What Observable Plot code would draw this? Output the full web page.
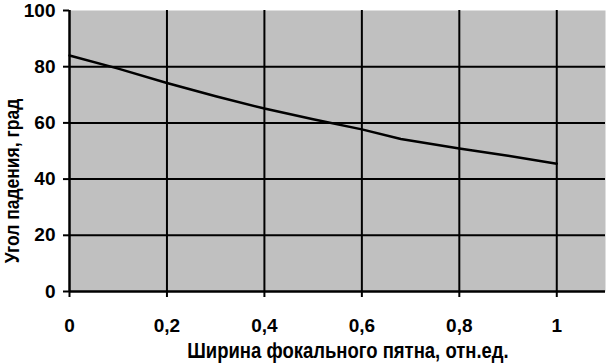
<!DOCTYPE html>
<html>
<head>
<meta charset="utf-8">
<script src="https://cdn.jsdelivr.net/npm/d3@7"></script>
<script src="https://cdn.jsdelivr.net/npm/@observablehq/plot@0.6"></script>
<style>
  html, body { margin: 0; padding: 0; background: #fff; }
  #chart { width: 607px; height: 364px; }
</style>
</head>
<body>
<div id="chart"></div>
<script>
const spotWidth = [0, 0.1, 0.2, 0.3, 0.4, 0.5, 0.6, 0.68, 0.8, 0.9, 1];
const incidenceAngle = [84, 79.3, 74.2, 69.5, 65.1, 61.3, 57.7, 54.3, 50.9, 48.3, 45.5];
const xTicks = [0, 0.2, 0.4, 0.6, 0.8, 1];
const yTicks = [0, 20, 40, 60, 80, 100];
const xGrid = [0.2, 0.4, 0.6, 0.8, 1];
const yGrid = [20, 40, 60, 80];
const xTitle = "Ширина фокального пятна, отн.ед.";
const yTitle = "Угол падения, град";

const data = spotWidth.map((x, i) => ({x, y: incidenceAngle[i]}));
const fmt = d => String(d).replace(".", ",");

const chart = Plot.plot({
  width: 607,
  height: 364,
  marginLeft: 69,
  marginRight: 2,
  marginTop: 10,
  marginBottom: 73,
  style: {fontFamily: "'Liberation Sans', Arial, sans-serif", fontWeight: "bold", background: "#fff", color: "#000"},
  x: {domain: [0, 1.1]},
  y: {domain: [0, 100]},
  marks: [
    Plot.frame({fill: "#c0c0c0", stroke: null}),
    Plot.gridX(xGrid, {stroke: "#000", strokeOpacity: 1, strokeWidth: 2}),
    Plot.gridY(yGrid, {stroke: "#000", strokeOpacity: 1, strokeWidth: 2}),
    Plot.ruleX([0], {stroke: "#000", strokeWidth: 2.5}),
    Plot.ruleY([0], {stroke: "#000", strokeWidth: 2.5}),
    Plot.axisX(xTicks, {tickSize: 6, tickFormat: () => "", label: null, strokeWidth: 2}),
    Plot.axisY(yTicks, {tickSize: 6, tickFormat: () => "", label: null, strokeWidth: 2}),
    Plot.text(xTicks, {x: d => d, text: fmt, frameAnchor: "bottom", dy: 34, lineAnchor: "middle", fontSize: 19, fontWeight: "bold", fill: "#000"}),
    Plot.text(yTicks, {y: d => d, text: fmt, frameAnchor: "left", dx: -14, textAnchor: "end", fontSize: 19, fontWeight: "bold", fill: "#000"}),
    Plot.line(data, {x: "x", y: "y", stroke: "#000", strokeWidth: 2.5})
  ]
});

const svg = d3.select(chart);
svg.append("text")
  .attr("transform", "translate(348,358) scale(1,1.15)")
  .attr("text-anchor", "middle")
  .attr("font-size", 18.5).attr("font-weight", "bold")
  .attr("fill", "#000")
  .text(xTitle);
svg.append("text")
  .attr("transform", "translate(19,181) rotate(-90) scale(1,1.15)")
  .attr("text-anchor", "middle")
  .attr("font-size", 17.5).attr("font-weight", "bold")
  .attr("fill", "#000")
  .text(yTitle);

document.getElementById("chart").appendChild(chart);
</script>
</body>
</html>
